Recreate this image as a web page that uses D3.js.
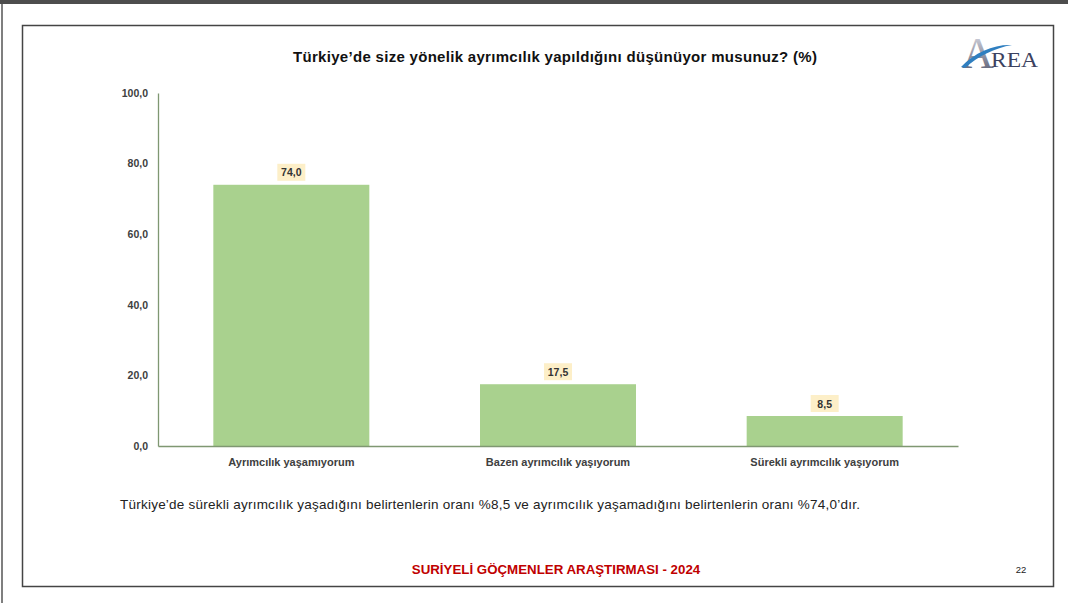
<!DOCTYPE html>
<html><head><meta charset="utf-8">
<script src="https://cdn.jsdelivr.net/npm/d3@7"></script>
<style>
html,body{margin:0;padding:0;background:#fff;}
svg{display:block;}
</style></head>
<body>
<svg id="c" width="1068" height="603"></svg>
<script>
const categories = ["Ayrımcılık yaşamıyorum", "Bazen ayrımcılık yaşıyorum", "Sürekli ayrımcılık yaşıyorum"];
const values = [74.0, 17.5, 8.5];
const yTicks = [0, 20, 40, 60, 80, 100];
const title = "Türkiye’de size yönelik ayrımcılık yapıldığını düşünüyor musunuz? (%)";
const note = "Türkiye’de sürekli ayrımcılık yaşadığını belirtenlerin oranı %8,5 ve ayrımcılık yaşamadığını belirtenlerin oranı %74,0’dır.";
const footer = "SURİYELİ GÖÇMENLER ARAŞTIRMASI - 2024";
const pageNo = "22";

const svg = d3.select("#c");
const font = "'Liberation Sans', 'DejaVu Sans', sans-serif";
const fmt = v => v.toFixed(1).replace(".", ",");

// page chrome
svg.append("rect").attr("x",0).attr("y",0).attr("width",1068).attr("height",603).attr("fill","#fff");
svg.append("rect").attr("x",0).attr("y",0).attr("width",1068).attr("height",4).attr("fill","#4d4d4d");
svg.append("line").attr("x1",2).attr("x2",2).attr("y1",4).attr("y2",603).attr("stroke","#555").attr("stroke-width",1.5);
svg.append("rect").attr("x",22.5).attr("y",25.5).attr("width",1031).attr("height",561)
  .attr("fill","#fff").attr("stroke","#444").attr("stroke-width",1.5);

// title
svg.append("text").attr("x",293).attr("y",62)
  .attr("font-family",font).attr("font-weight","bold").attr("font-size",15).attr("fill","#111")
  .attr("textLength",524).attr("lengthAdjust","spacing")
  .text(title);

// logo
const defs = svg.append("defs");
const g1 = defs.append("linearGradient").attr("id","lg").attr("x1","0").attr("y1","0").attr("x2","0").attr("y2","1");
g1.append("stop").attr("offset","0").attr("stop-color","#e6e6ee");
g1.append("stop").attr("offset","1").attr("stop-color","#4a4f66");
const logo = svg.append("g");
logo.append("text").attr("x",962).attr("y",68).attr("font-family","'Liberation Serif', serif")
  .attr("font-size",44).attr("fill","url(#lg)").text("A");
logo.append("path").attr("d","M961,67 C975,52 995,44 1012,45 C995,48 978,56 965,68 Z").attr("fill","#2f7fc0");
logo.append("text").attr("x",991).attr("y",67).attr("font-family","'Liberation Serif', serif")
  .attr("font-size",22).attr("fill","#3b4260").attr("textLength",47).attr("lengthAdjust","spacingAndGlyphs").text("REA");

// chart
const m = {l:158, r:958, t:93, b:446};
const x = d3.scaleBand().domain(categories).range([m.l, m.r]).paddingInner(0.415).paddingOuter(0.2075);
const y = d3.scaleLinear().domain([0,100]).range([m.b, m.t]);

svg.selectAll("rect.bar").data(values).enter().append("rect").attr("class","bar")
  .attr("x",(d,i)=>x(categories[i])).attr("width",x.bandwidth())
  .attr("y",d=>y(d)).attr("height",d=>y(0)-y(d)).attr("fill","#a9d18e");

const yAxis = svg.append("g").attr("transform",`translate(${m.l},0)`)
  .call(d3.axisLeft(y).tickValues(yTicks).tickSize(0).tickPadding(10).tickFormat(fmt));
yAxis.select(".domain").attr("stroke","#7f9772").attr("stroke-width",1.3);
yAxis.selectAll("text").attr("font-family",font).attr("font-size",10.5).attr("font-weight","bold").attr("fill","#404040");

const xAxis = svg.append("g").attr("transform",`translate(0,${m.b})`)
  .call(d3.axisBottom(x).tickSize(0).tickPadding(12));
xAxis.select(".domain").attr("stroke","#7f9772").attr("stroke-width",1.3);
xAxis.selectAll("text").attr("font-family",font).attr("font-size",11).attr("font-weight","bold").attr("fill","#404040");

// value labels
const lab = svg.selectAll("g.lab").data(values).enter().append("g").attr("class","lab")
  .attr("transform",(d,i)=>`translate(${x(categories[i])+x.bandwidth()/2},${y(d)-12})`);
lab.append("rect").attr("x",-14).attr("y",-9).attr("width",28).attr("height",17).attr("fill","#fdefc8");
lab.append("text").attr("text-anchor","middle").attr("dy","0.35em")
  .attr("font-family",font).attr("font-size",10.5).attr("font-weight","bold").attr("fill","#333").text(fmt);

// note
svg.append("text").attr("x",120).attr("y",509).attr("font-family",font).attr("font-size",13.5)
  .attr("fill","#222").attr("textLength",740).attr("lengthAdjust","spacing").text(note);

// footer
svg.append("text").attr("x",556).attr("y",574).attr("text-anchor","middle").attr("font-family",font)
  .attr("font-size",13.3).attr("font-weight","bold").attr("fill","#c00000").text(footer);
svg.append("text").attr("x",1021).attr("y",573).attr("text-anchor","middle").attr("font-family",font)
  .attr("font-size",9.5).attr("fill","#222").text(pageNo);
</script>
</body></html>
